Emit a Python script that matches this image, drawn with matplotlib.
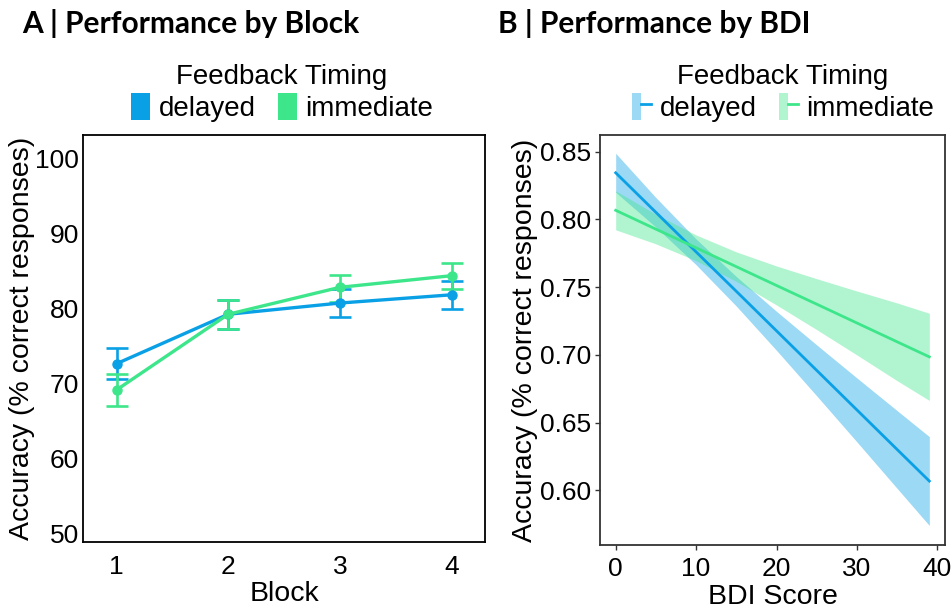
import matplotlib
matplotlib.use("Agg")
import matplotlib.pyplot as plt
from matplotlib.patches import Patch
from matplotlib.lines import Line2D
from matplotlib.legend_handler import HandlerTuple

plt.rcParams['font.family'] = ['Liberation Sans', 'DejaVu Sans']

# ---------------- data ----------------
blocks = [1, 2, 3, 4]
delayed_mean = [72.6, 79.2, 80.7, 81.8]
delayed_lo = [70.55, 77.3, 78.8, 79.95]
delayed_hi = [74.7, 81.1, 82.6, 83.65]
immediate_mean = [69.1, 79.2, 82.8, 84.35]
immediate_lo = [66.9, 77.3, 80.9, 82.6]
immediate_hi = [71.25, 81.1, 84.5, 86.05]

bdi = [0, 5, 10, 15, 20, 25, 30, 35, 39]
bdi_delayed_fit = [0.8344, 0.8052, 0.7760, 0.7469, 0.7177, 0.6885, 0.6593, 0.6301, 0.6068]
bdi_delayed_lo = [0.8200, 0.7943, 0.7665, 0.7360, 0.7033, 0.6697, 0.6357, 0.6014, 0.5740]
bdi_delayed_hi = [0.8488, 0.8161, 0.7855, 0.7578, 0.7321, 0.7073, 0.6829, 0.6588, 0.6396]
bdi_immediate_fit = [0.8067, 0.7928, 0.7790, 0.7651, 0.7512, 0.7374, 0.7235, 0.7096, 0.6985]
bdi_immediate_lo = [0.7923, 0.7819, 0.7695, 0.7542, 0.7368, 0.7186, 0.6999, 0.6809, 0.6663]
bdi_immediate_hi = [0.8211, 0.8037, 0.7885, 0.7760, 0.7656, 0.7562, 0.7471, 0.7383, 0.7307]

a_yticks = [50, 60, 70, 80, 90, 100]
b_yticks = [0.60, 0.65, 0.70, 0.75, 0.80, 0.85]
b_xticks = [0, 10, 20, 30, 40]
labels = ["delayed", "immediate"]

C_DEL = "#0AA0E6"
C_IMM = "#3DE68A"
F_DEL = "#9CD9F4"
F_IMM = "#B0F5CF"

W, H = 952, 612
fig = plt.figure(figsize=(W / 100, H / 100), dpi=100)

def box(l, r, t, b):
    return [l / W, 1 - b / H, (r - l) / W, (b - t) / H]

FS = 19     # tick labels
FT = 20.5   # axis titles
FL = 20     # legend

# ---------------- Panel A ----------------
axA = fig.add_axes(box(83, 485, 134.5, 542))
for m, lo, hi, c in [(delayed_mean, delayed_lo, delayed_hi, C_DEL),
                     (immediate_mean, immediate_lo, immediate_hi, C_IMM)]:
    yerr = [[mm - l for mm, l in zip(m, lo)], [h - mm for mm, h in zip(m, hi)]]
    axA.errorbar(blocks, m, yerr=yerr, color=c, lw=2.4, elinewidth=1.9,
                 capsize=8, capthick=1.9, marker='o', ms=6.5)
axA.set_xlim(0.7, 4.3)
axA.set_ylim(48.8, 103.2)
axA.set_xticks(blocks)
axA.set_yticks(a_yticks)
axA.tick_params(length=0, labelsize=FS, pad=3, colors='black')
axA.tick_params(axis='x', pad=9)
for s in axA.spines.values():
    s.set_color('black')
    s.set_linewidth(1.3)
axA.set_xlabel("Block", fontsize=FT, labelpad=2)
axA.set_ylabel("Accuracy (% correct responses)", fontsize=FT, labelpad=0)

hA = [Patch(facecolor=C_DEL, edgecolor='none'), Patch(facecolor=C_IMM, edgecolor='none')]
axA.legend(hA, labels, title="Feedback Timing", ncol=2, loc='center',
           bbox_to_anchor=(282 / W, 1 - 93 / H), bbox_transform=fig.transFigure,
           frameon=False, fontsize=FL, title_fontsize=FL,
           handlelength=0.7, handleheight=1.15, handletextpad=0.3,
           columnspacing=0.8, borderpad=0, labelspacing=0.1)

# ---------------- Panel B ----------------
axB = fig.add_axes(box(600, 945, 135, 545))
axB.fill_between(bdi, bdi_delayed_lo, bdi_delayed_hi, color=F_DEL, lw=0)
axB.fill_between(bdi, bdi_immediate_lo, bdi_immediate_hi, color=C_IMM, alpha=0.4, lw=0)
axB.plot(bdi, bdi_delayed_fit, color=C_DEL, lw=2.0)
axB.plot(bdi, bdi_immediate_fit, color=C_IMM, lw=2.0)
axB.set_xlim(-1.95, 40.95)
axB.set_ylim(0.5596, 0.8623)
axB.set_xticks(b_xticks)
axB.set_yticks(b_yticks)
axB.set_yticklabels([f"{v:.2f}" for v in b_yticks])
axB.tick_params(length=3.5, width=1, colors='#333333', labelcolor='black', labelsize=FS, pad=3)
axB.tick_params(axis='x', pad=5)
for s in axB.spines.values():
    s.set_color('#333333')
    s.set_linewidth(1.3)
axB.set_xlabel("BDI Score", fontsize=FT, labelpad=2)
axB.set_ylabel("Accuracy (% correct responses)", fontsize=FT, labelpad=1)

hB = [(Patch(facecolor=F_DEL, edgecolor='none'), Line2D([], [], color=C_DEL, lw=2)),
      (Patch(facecolor=F_IMM, edgecolor='none'), Line2D([], [], color=C_IMM, lw=2))]
axB.legend(hB, labels, title="Feedback Timing", ncol=2, loc='center',
           bbox_to_anchor=(783 / W, 1 - 93 / H), bbox_transform=fig.transFigure,
           frameon=False, fontsize=FL, title_fontsize=FL,
           handler_map={tuple: HandlerTuple(ndivide=None, pad=0)},
           handlelength=0.7, handleheight=1.15, handletextpad=0.3,
           columnspacing=0.8, borderpad=0, labelspacing=0.1)

# ---------------- titles ----------------
fig.text(22 / W, 1 - 23 / H, "A | Performance by Block", fontsize=21.5, fontweight='bold',
         family=['Lato', 'DejaVu Sans'], ha='left', va='center')
fig.text(498 / W, 1 - 23 / H, "B | Performance by BDI", fontsize=21.5, fontweight='bold',
         family=['Lato', 'DejaVu Sans'], ha='left', va='center')

fig.savefig("out.png", dpi=100)
